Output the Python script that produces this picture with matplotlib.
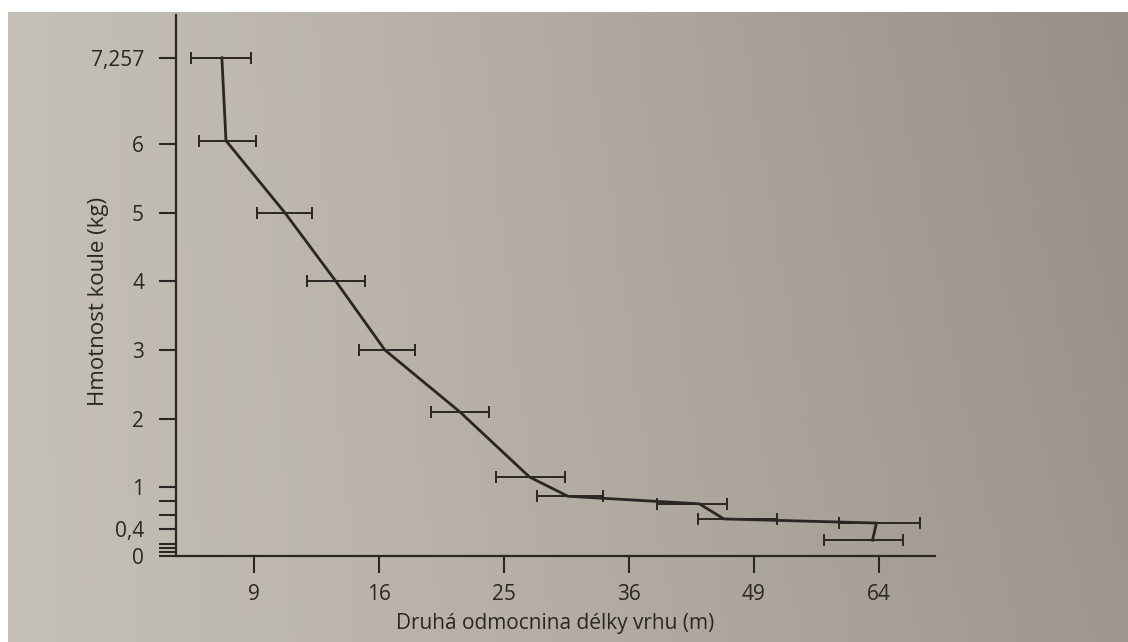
import numpy as np
import matplotlib
matplotlib.use('Agg')
import matplotlib.pyplot as plt

# Data (throw length in m, shot weight in kg)
weight = [7.257, 6.05, 5.0, 4.0, 3.0, 2.1, 1.15, 0.87, 0.76, 0.54, 0.48, 0.23]
length_mean = [7.53, 7.71, 10.55, 13.37, 16.39, 21.6, 27.1, 30.4, 43.1, 45.7, 63.7, 63.2]
length_low = [6.23, 6.55, 9.14, 11.72, 14.75, 19.5, 24.4, 27.7, 38.8, 42.9, 59.0, 57.2]
length_high = [8.86, 9.10, 12.0, 15.12, 18.39, 23.8, 30.1, 33.6, 46.0, 51.6, 69.4, 67.2]

x_ticks = [9, 16, 25, 36, 49, 64]
y_ticks = [0, 0.4, 1, 2, 3, 4, 5, 6, 7.257]
y_tick_labels = ['0', '0,4', '1', '2', '3', '4', '5', '6', '7,257']
y_minor = [0.06, 0.12, 0.17, 0.6, 0.8]

ink = '#2a2624'
plt.rcParams['font.family'] = ['Open Sans', 'DejaVu Sans']

fig = plt.figure(figsize=(11.28, 6.42), dpi=100)
fig.patch.set_facecolor('white')

# paper background (photo of a page, darker towards the right)
bg = fig.add_axes([8 / 1128, 0, 1 - 8 / 1128, 1 - 12 / 642])
gx = np.linspace(0, 1, 200)
gy = np.linspace(0, 1, 100)
GX, GY = np.meshgrid(gx, gy)
left_c = np.array([197, 192, 182]) / 255
right_c = np.array([152, 143, 134]) / 255
t = np.clip(GX ** 1.15 * (0.85 + 0.15 * (1 - GY)), 0, 1)
img = left_c[None, None, :] * (1 - t[..., None]) + right_c[None, None, :] * t[..., None]
bg.imshow(img, aspect='auto', extent=[0, 1, 0, 1], origin='upper')
bg.axis('off')

ax = fig.add_axes([176 / 1128, 1 - 556 / 642, (935 - 176) / 1128, (556 - 15) / 642])
ax.patch.set_alpha(0)
ax.set_xscale('function', functions=(np.sqrt, np.square))

mean = np.array(length_mean)
xerr = [mean - np.array(length_low), np.array(length_high) - mean]
ax.errorbar(length_mean, weight, xerr=xerr, fmt='none', ecolor=ink,
            elinewidth=1.4, capsize=4, capthick=1.4)
ax.plot(length_mean, weight, color=ink, lw=2)

ax.set_xlim(5.65, 71.4)
ax.set_ylim(0, 7.88)
ax.set_xticks(x_ticks)
ax.set_xticklabels([str(v) for v in x_ticks])
ax.set_yticks(y_ticks)
ax.set_yticklabels(y_tick_labels)
ax.set_yticks(y_minor, minor=True)
ax.xaxis.set_minor_locator(matplotlib.ticker.NullLocator())

for s in ['top', 'right']:
    ax.spines[s].set_visible(False)
for s in ['left', 'bottom']:
    ax.spines[s].set_color(ink)
    ax.spines[s].set_linewidth(1.6)

ax.tick_params(axis='both', which='major', length=12, width=1.5, color=ink,
               labelsize=15, labelcolor=ink)
ax.tick_params(axis='y', which='major', pad=11)
ax.tick_params(axis='x', which='major', pad=8)
ax.tick_params(axis='y', which='minor', length=12, width=1.5, color=ink)

ax.set_xlabel('Druhá odmocnina délky vrhu (m)', fontsize=15, color=ink, labelpad=6)
ax.set_ylabel('Hmotnost koule (kg)', fontsize=16, color=ink)
ax.yaxis.set_label_coords(-0.088, 0.47)

fig.savefig('out.png', dpi=100)
